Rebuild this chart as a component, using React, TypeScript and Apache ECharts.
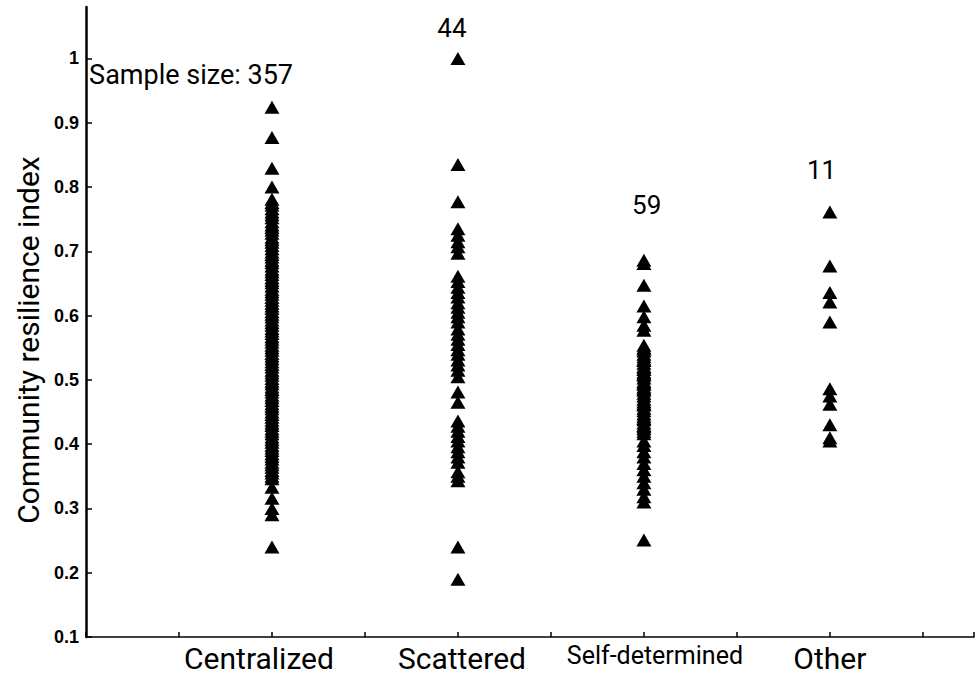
import React, { useEffect, useRef } from "react";
import * as echarts from "echarts";

const categories = ["Centralized", "Scattered", "Self-determined", "Other"];
const categoryX = [2, 4, 6, 8];
const yTickValues = [0.1, 0.2, 0.3, 0.4, 0.5, 0.6, 0.7, 0.8, 0.9, 1];

const centralized = [
  0.924, 0.877, 0.829, 0.8,
  0.781, 0.776, 0.772, 0.766, 0.761, 0.757, 0.752, 0.746, 0.741, 0.737, 0.733, 0.728,
  0.722, 0.718, 0.714, 0.709, 0.704, 0.699, 0.695, 0.691, 0.686, 0.682, 0.677, 0.672,
  0.668, 0.664, 0.659, 0.655, 0.651, 0.646, 0.641, 0.637, 0.633, 0.628, 0.624, 0.619,
  0.615, 0.611, 0.606, 0.602, 0.598, 0.593, 0.589, 0.585, 0.58, 0.576, 0.572, 0.567,
  0.563, 0.559, 0.554, 0.55, 0.546, 0.541, 0.537, 0.533, 0.528, 0.524, 0.52, 0.515,
  0.511, 0.507, 0.502, 0.498, 0.494, 0.489, 0.485, 0.481, 0.476, 0.472, 0.468, 0.463,
  0.459, 0.455, 0.45, 0.446, 0.442, 0.437, 0.433, 0.429, 0.424, 0.42, 0.416, 0.411,
  0.407, 0.403, 0.398, 0.394, 0.39, 0.385, 0.381, 0.377, 0.372, 0.368, 0.364, 0.359,
  0.355, 0.35, 0.346,
  0.333, 0.316, 0.3, 0.29,
  0.24,
];

const scattered = [
  1.0, 0.835, 0.777, 0.735, 0.725, 0.715, 0.707, 0.697, 0.661, 0.653, 0.644, 0.636,
  0.629, 0.62, 0.613, 0.605, 0.598, 0.59, 0.579, 0.571, 0.563, 0.555, 0.547, 0.54,
  0.531, 0.523, 0.515, 0.505, 0.481, 0.465, 0.436, 0.428, 0.42, 0.412, 0.405, 0.396,
  0.388, 0.38, 0.372, 0.357, 0.35, 0.343, 0.24, 0.19,
];

const selfDetermined = [
  0.686, 0.681, 0.647, 0.615, 0.598, 0.585, 0.577,
  0.554, 0.55, 0.548, 0.545, 0.54, 0.536, 0.532, 0.53, 0.526, 0.521, 0.519, 0.516,
  0.512, 0.509, 0.507, 0.503, 0.498, 0.495, 0.493, 0.489, 0.486, 0.484, 0.479, 0.475,
  0.47, 0.466, 0.463, 0.461, 0.456, 0.452, 0.447, 0.443, 0.44, 0.438, 0.433, 0.429,
  0.427, 0.424, 0.42, 0.416,
  0.405, 0.398, 0.388, 0.38, 0.37, 0.36, 0.35, 0.34, 0.33, 0.318, 0.31,
  0.251,
];

const other = [0.761, 0.677, 0.636, 0.621, 0.59, 0.486, 0.475, 0.462, 0.43, 0.41, 0.405];

const annotationTexts = ["Sample size: 357", "44", "59", "11"];
const annotationX = [1.13, 3.935, 6.03, 7.91];
const annotationY = [0.974, 1.047, 0.772, 0.826];

const groups = [centralized, scattered, selfDetermined, other];
const labelStyleKeys = ["c", "sc", "s", "o"];

export default function App() {
  const ref = useRef<HTMLDivElement>(null);

  useEffect(() => {
    document.body.style.margin = "0";
    if (!ref.current) return;
    const chart = echarts.init(ref.current, null, { renderer: "svg" });

    const markerSeries = groups.map((vals, i) => ({
      type: "scatter",
      name: categories[i],
      symbol: "triangle",
      symbolSize: [15, 13],
      itemStyle: { color: "#000", opacity: 1 },
      data: vals.map((v) => [categoryX[i], v]),
      z: 3,
    }));

    const annotationSeries = {
      type: "scatter",
      symbolSize: 0,
      silent: true,
      itemStyle: { color: "#000", opacity: 1 },
      data: annotationTexts.map((t, i) => ({
        name: t,
        value: [annotationX[i], annotationY[i]],
        label: { fontSize: i === 0 ? 27 : 26 },
      })),
      label: {
        show: true,
        position: "inside",
        formatter: (p: any) => p.name,
        color: "#000",
        opacity: 1,
        fontFamily: "Roboto",
      },
      z: 4,
    };

    const base = { fontSize: 30, fontFamily: "Roboto", color: "#000" };

    chart.setOption({
      animation: false,
      backgroundColor: "#fff",
      grid: { left: 86, right: 2, top: 7, bottom: 40, containLabel: false },
      xAxis: [
        {
          type: "value",
          min: 0,
          max: 9.55,
          interval: 1,
          splitLine: { show: false },
          axisLine: { show: true, lineStyle: { color: "#000", width: 1.5 } },
          axisTick: { show: false },
          axisLabel: {
            margin: 6,
            showMaxLabel: false,
            formatter: (v: number) => {
              const i = categoryX.indexOf(v);
              if (i < 0) return "";
              return `{${labelStyleKeys[i]}|${categories[i]}}`;
            },
            rich: {
              c: { ...base, padding: [0, 26, 0, 0] },
              sc: { ...base, padding: [0, 0, 0, 8] },
              s: { fontSize: 25, fontFamily: "Roboto", color: "#000", padding: [0, 0, 0, 22] },
              o: { ...base },
            },
          },
        },
        {
          type: "value",
          position: "bottom",
          offset: 0,
          min: 0,
          max: 9.55,
          interval: 1,
          splitLine: { show: false },
          axisLine: { show: false },
          axisLabel: { show: false },
          axisTick: { show: true, inside: true, length: 5, lineStyle: { color: "#000", width: 1.5 } },
        },
      ],
      yAxis: {
        type: "value",
        min: 0.1,
        max: 1.08,
        interval: 0.1,
        name: "Community resilience index",
        nameLocation: "middle",
        nameRotate: 90,
        nameGap: 38,
        nameTextStyle: { fontSize: 30, fontFamily: "Roboto", color: "#000", padding: [0, 36, 0, 0] },
        splitLine: { show: false },
        axisLine: { show: true, lineStyle: { color: "#000", width: 2.5 } },
        axisTick: {
          show: true,
          inside: true,
          length: 6,
          customValues: yTickValues,
          lineStyle: { color: "#000", width: 1.5 },
        },
        axisLabel: {
          customValues: yTickValues,
          margin: 7,
          fontSize: 18,
          fontWeight: "bold",
          fontFamily: "Liberation Sans",
          color: "#000",
          formatter: (v: number) => String(Math.round(v * 10) / 10),
        },
      },
      series: [...markerSeries, annotationSeries],
    });

    return () => chart.dispose();
  }, []);

  return <div ref={ref} style={{ width: 976, height: 677 }} />;
}
